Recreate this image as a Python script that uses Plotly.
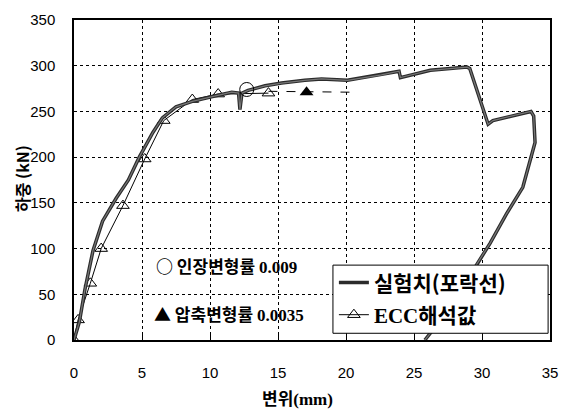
import plotly.graph_objects as go

# Experimental envelope (실험치)
exp_x = [0, 0.4, 0.8, 1.4, 2.1, 3.1, 4.0, 4.8, 5.8, 6.5, 7.5, 8.7, 10.1, 11.6, 12.1, 12.2,
         12.35, 12.8, 14.05, 15.26, 16.97, 18.2, 20.1, 22.6, 23.9, 24.0, 26.2, 28.9, 29.1,
         30.45, 30.8, 33.6, 33.8, 33.9, 33.0, 31.8, 30.6, 29.6, 28.0, 26.6, 25.8]
exp_y = [0, 20, 55, 98, 130, 155, 175, 200, 227, 243, 255, 261, 266, 271, 270, 252,
         270, 273, 278, 281, 284, 285.5, 284, 290, 294, 287, 295, 298.5, 297,
         236, 240, 250, 245, 216, 167, 138, 106, 82, 45, 15, 0]

# ECC analysis (ECC해석값)
ecc_x = [0, 0.3, 1.2, 2.0, 3.6, 5.2, 6.6, 8.7, 10.6, 14.3]
ecc_y = [0, 22, 62, 100, 147, 198, 240, 263, 269, 270]

# dashed extension of the analysis
ext_x = [14.3, 20.6]
ext_y = [272, 271]

# tensile strain 0.009 point (circle) and compressive strain 0.0035 point (filled triangle)
ten_x = [12.7]
ten_y = [274]
comp_x = [17.1]
comp_y = [271]

x_ticks = [0, 5, 10, 15, 20, 25, 30, 35]
y_ticks = [0, 50, 100, 150, 200, 250, 300, 350]

KR = "Noto Sans CJK KR"
SERIF = "Liberation Serif"
NUM = "Liberation Sans Narrow, Arial Narrow, Liberation Sans"

fig = go.Figure()

fig.add_trace(go.Scatter(
    x=ext_x, y=ext_y, mode="lines", line=dict(color="black", width=1, dash="dash"),
    showlegend=False, hoverinfo="skip"))

fig.add_trace(go.Scatter(
    x=ecc_x, y=ecc_y, mode="lines+markers",
    name=f"<b><span style='font-family:{SERIF}'>ECC</span>해석값</b>",
    line=dict(color="black", width=1),
    marker=dict(symbol="triangle-up-open", size=11, color="black", line=dict(width=1)),
    legendgroup="b", legendrank=2))

fig.add_trace(go.Scatter(
    x=exp_x, y=exp_y, mode="lines", name="<b>실험치(포락선)</b>",
    line=dict(color="#2b2b2b", width=3.5),
    legendgroup="a", legendrank=1))

fig.add_trace(go.Scatter(
    x=exp_x, y=exp_y, mode="lines", line=dict(color="#777777", width=1.2),
    showlegend=False, hoverinfo="skip"))

fig.add_trace(go.Scatter(
    x=ten_x, y=ten_y, mode="markers",
    marker=dict(symbol="circle-open", size=14, color="black", line=dict(width=1)),
    showlegend=False))

fig.add_trace(go.Scatter(
    x=comp_x, y=comp_y, mode="markers",
    marker=dict(symbol="triangle-up", size=12, color="black"),
    showlegend=False))

fig.update_xaxes(
    range=[0, 35], tickvals=x_ticks, ticktext=[str(v) for v in x_ticks],
    showgrid=True, gridcolor="black", griddash="dot", gridwidth=1,
    showline=True, linecolor="black", linewidth=1.5, mirror=True,
    ticks="inside", ticklen=5, tickcolor="black",
    ticklabelstandoff=18, zeroline=False,
    tickfont=dict(family=NUM, size=15, color="black"))
fig.update_yaxes(
    range=[0, 350], tickvals=y_ticks, ticktext=[str(v) for v in y_ticks],
    showgrid=True, gridcolor="black", griddash="dot", gridwidth=1,
    showline=True, linecolor="black", linewidth=1.5, mirror=True,
    ticks="", ticklabelstandoff=14, zeroline=False,
    tickfont=dict(family=NUM, size=15, color="black"))

annotations = [
    dict(x=0.47, y=-0.18, xref="paper", yref="paper", xanchor="center", yanchor="middle",
         text=f"<b>변위<span style='font-family:{SERIF}'>(mm)</span></b>",
         font=dict(family=KR, size=17, color="black"), showarrow=False),
    dict(x=-0.108, y=0.505, xref="paper", yref="paper", xanchor="center", yanchor="middle",
         text="<b>하중 (kN)</b>", textangle=-90,
         font=dict(family=KR, size=16, color="black"), showarrow=False),
    dict(x=5.9, y=82, xref="x", yref="y", xanchor="left", yanchor="middle",
         text=f"<b>○ 인장변형률 <span style='font-family:{SERIF}'>0.009</span></b>",
         font=dict(family=KR, size=17, color="black"), showarrow=False),
    dict(x=5.7, y=29, xref="x", yref="y", xanchor="left", yanchor="middle",
         text=f"<b>▲ 압축변형률 <span style='font-family:{SERIF}'>0.0035</span></b>",
         font=dict(family=KR, size=17, color="black"), showarrow=False),
]
for a in annotations:
    fig.add_annotation(**a)

# legend frame (drawn as a shape so it can be as wide as the original)
fig.add_shape(type="rect", xref="paper", yref="paper",
              x0=0.544, x1=0.996, y0=0.021, y1=0.234,
              fillcolor="white", line=dict(color="black", width=1), layer="above")

fig.update_layout(
    width=569, height=411,
    margin=dict(l=74, r=15, t=11, b=71),
    paper_bgcolor="white", plot_bgcolor="white",
    showlegend=True,
    legend=dict(x=0.546, y=0.243, xanchor="left", yanchor="top",
                bgcolor="rgba(0,0,0,0)", borderwidth=0,
                font=dict(family=KR, size=21, color="black"),
                traceorder="grouped", tracegroupgap=2,
                itemwidth=30),
)

fig.write_html("out.html")
